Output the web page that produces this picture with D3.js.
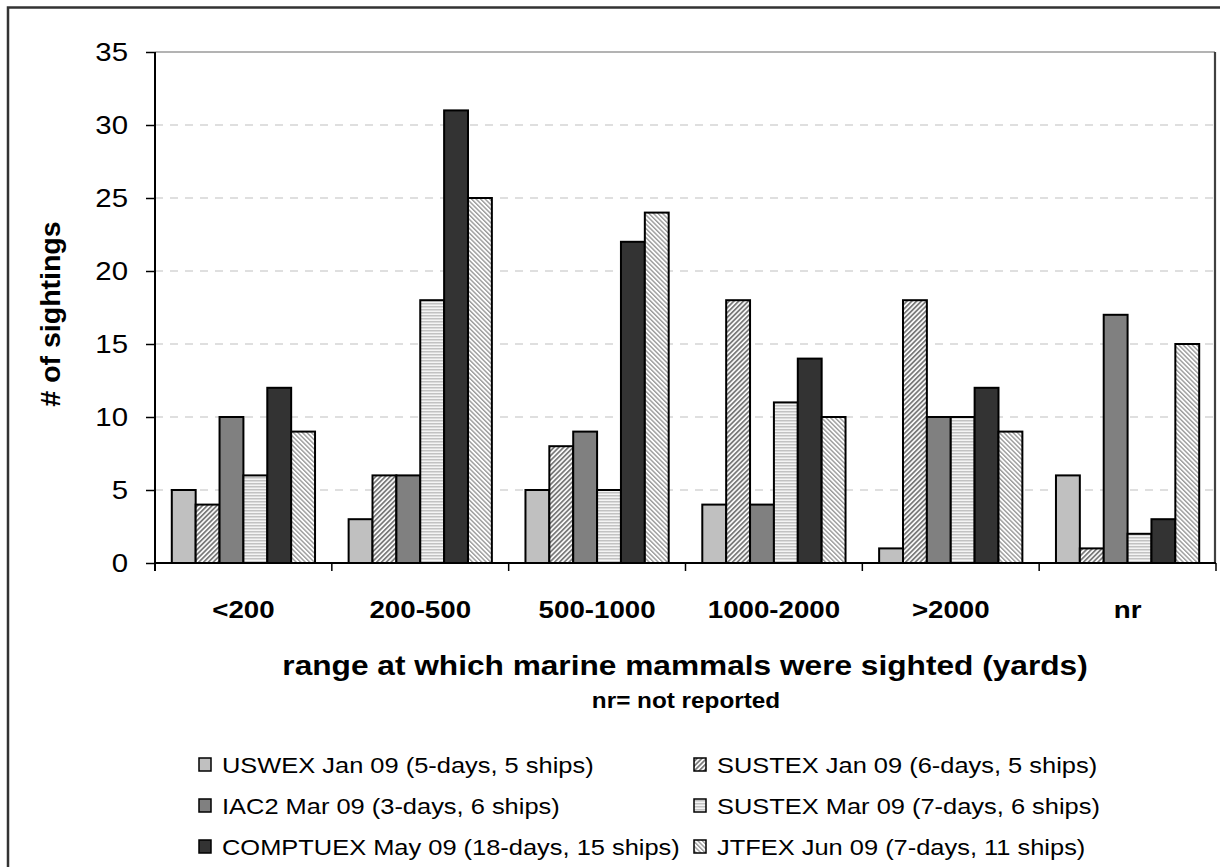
<!DOCTYPE html>
<html>
<head>
<meta charset="utf-8">
<script src="https://cdn.jsdelivr.net/npm/d3@7/dist/d3.min.js"></script>
<style>
  html, body { margin: 0; padding: 0; background: #fff; }
  svg { display: block; font-family: Arial, "Liberation Sans", sans-serif; }
</style>
</head>
<body>
<svg id="chart" width="1220" height="867"></svg>
<script>
const categories = ["<200", "200-500", "500-1000", "1000-2000", ">2000", "nr"];
const seriesNames = [
  "USWEX Jan 09 (5-days, 5 ships)",
  "SUSTEX Jan 09 (6-days, 5 ships)",
  "IAC2 Mar 09 (3-days, 6 ships)",
  "SUSTEX Mar 09 (7-days, 6 ships)",
  "COMPTUEX May 09 (18-days, 15 ships)",
  "JTFEX Jun 09 (7-days, 11 ships)"
];
const uswexJan = [5, 3, 5, 4, 1, 6];
const sustexJan = [4, 6, 8, 18, 18, 1];
const iac2Mar = [10, 6, 9, 4, 10, 17];
const sustexMar = [6, 18, 5, 11, 10, 2];
const comptuexMay = [12, 31, 22, 14, 12, 3];
const jtfexJun = [9, 25, 24, 10, 9, 15];
const yTicks = [0, 5, 10, 15, 20, 25, 30, 35];

const seriesValues = [uswexJan, sustexJan, iac2Mar, sustexMar, comptuexMay, jtfexJun];
const fills = ["#c0c0c0", "url(#pSusJan)", "#808080", "url(#pSusMar)", "#333333", "url(#pJtfex)"];
const STRETCH = 1.13;

function stretch(sel) {
  sel.each(function () {
    const w = this.getComputedTextLength();
    d3.select(this).attr("textLength", w * STRETCH).attr("lengthAdjust", "spacingAndGlyphs");
  });
}

const svg = d3.select("#chart");
const defs = svg.append("defs");

// patterns
const p1 = defs.append("pattern").attr("id", "pSusJan").attr("patternUnits", "userSpaceOnUse")
  .attr("width", 3.4).attr("height", 3.4).attr("patternTransform", "rotate(45)");
p1.append("rect").attr("width", 3.4).attr("height", 3.4).attr("fill", "#ffffff");
p1.append("rect").attr("width", 1.8).attr("height", 3.4).attr("fill", "#7a7a7a");

const p2 = defs.append("pattern").attr("id", "pJtfex").attr("patternUnits", "userSpaceOnUse")
  .attr("width", 3.2).attr("height", 3.2).attr("patternTransform", "rotate(-45)");
p2.append("rect").attr("width", 3.2).attr("height", 3.2).attr("fill", "#ffffff");
p2.append("rect").attr("width", 1.4).attr("height", 3.2).attr("fill", "#9a9a9a");

const p3 = defs.append("pattern").attr("id", "pSusMar").attr("patternUnits", "userSpaceOnUse")
  .attr("width", 4).attr("height", 3);
p3.append("rect").attr("width", 4).attr("height", 3).attr("fill", "#f4f4f4");
p3.append("rect").attr("width", 4).attr("height", 1.5).attr("fill", "#c2c2c2");

// outer frame
svg.append("rect").attr("x", 8).attr("y", 7.5).attr("width", 1260).attr("height", 900)
  .attr("fill", "none").attr("stroke", "#333").attr("stroke-width", 2.5);

const pLeft = 155, pRight = 1216, pTop = 52, pBottom = 563;

const x0 = d3.scaleBand().domain(categories).range([pLeft, pRight]).paddingInner(0.19).paddingOuter(0.095);
const x1 = d3.scaleBand().domain(d3.range(seriesNames.length)).range([0, x0.bandwidth()]);
const y = d3.scaleLinear().domain([0, 35]).range([pBottom, pTop]);

// gridlines
svg.append("g").selectAll("line").data(yTicks.filter(t => t > 0 && t < 35)).join("line")
  .attr("x1", pLeft).attr("x2", pRight)
  .attr("y1", d => y(d)).attr("y2", d => y(d))
  .attr("stroke", "#c0c0c0").attr("stroke-width", 1.2).attr("stroke-dasharray", "8,7");

// plot area border top/right
svg.append("path")
  .attr("d", `M${pLeft},${pTop}H${pRight - 1}`)
  .attr("fill", "none").attr("stroke", "#9a9a9a").attr("stroke-width", 1.3);
svg.append("path")
  .attr("d", `M${pRight - 1},${pTop}V${pBottom}`)
  .attr("fill", "none").attr("stroke", "#404040").attr("stroke-width", 2.2);

// bars
const data = [];
categories.forEach((c, ci) => {
  seriesValues.forEach((vals, si) => data.push({ c, si, v: vals[ci] }));
});
svg.append("g").selectAll("rect").data(data).join("rect")
  .attr("x", d => x0(d.c) + x1(d.si))
  .attr("width", x1.bandwidth())
  .attr("y", d => y(d.v))
  .attr("height", d => y(0) - y(d.v))
  .attr("fill", d => fills[d.si])
  .attr("stroke", "#000").attr("stroke-width", 2);

// y axis
const yAxis = d3.axisLeft(y).tickValues(yTicks).tickSize(9).tickPadding(18);
const gy = svg.append("g").attr("transform", `translate(${pLeft},0)`).call(yAxis);
gy.select(".domain").attr("stroke", "#000").attr("stroke-width", 2)
  .attr("d", `M0,${pTop}V${pBottom + 8}`);
gy.selectAll(".tick line").attr("stroke", "#000").attr("stroke-width", 1.5);
gy.selectAll("text").attr("font-size", 26).attr("fill", "#000")
  .attr("font-family", "Arial, 'Liberation Sans', sans-serif").call(stretch);

// x axis
const xAxis = d3.axisBottom(x0).tickSize(0).tickPadding(55);
const gx = svg.append("g").attr("transform", `translate(0,${pBottom})`).call(xAxis);
gx.select(".domain").attr("stroke", "#000").attr("stroke-width", 2).attr("d", `M${pLeft},0H${pRight}`);
gx.selectAll("text").attr("font-size", 24.5).attr("font-weight", "bold").attr("fill", "#000")
  .attr("font-family", "Arial, 'Liberation Sans', sans-serif").attr("dy", "0").call(stretch);
// boundary ticks
const boundaryX = categories.map((c, i) => pLeft + i * x0.step()).concat([pRight]);
svg.append("g").selectAll("line").data(boundaryX).join("line")
  .attr("x1", d => d).attr("x2", d => d)
  .attr("y1", pBottom).attr("y2", pBottom + 8)
  .attr("stroke", "#000").attr("stroke-width", 1.5);

// axis titles
svg.append("text").attr("x", 685).attr("y", 675).attr("text-anchor", "middle")
  .attr("font-size", 28).attr("font-weight", "bold")
  .text("range at which marine mammals were sighted (yards)").call(stretch);
svg.append("text").attr("x", 686).attr("y", 708).attr("text-anchor", "middle")
  .attr("font-size", 21.5).attr("font-weight", "bold").text("nr= not reported").call(stretch);
svg.append("text").attr("transform", "translate(60,314) rotate(-90)").attr("text-anchor", "middle")
  .attr("font-size", 28.5).attr("font-weight", "bold").text("# of sightings");

// legend
const legendCols = [199, 694];
const legendRows = [765, 806, 847];
const lg = svg.append("g").selectAll("g").data(seriesNames).join("g")
  .attr("transform", (d, i) => `translate(${legendCols[i % 2]},${legendRows[Math.floor(i / 2)]})`);
lg.append("rect").attr("x", 0).attr("y", -7).attr("width", 12).attr("height", 13)
  .attr("fill", (d, i) => fills[i]).attr("stroke", "#000").attr("stroke-width", 1.5);
lg.append("text").attr("x", 23).attr("y", 8).attr("font-size", 22.5).text(d => d).call(stretch);
</script>
</body>
</html>
